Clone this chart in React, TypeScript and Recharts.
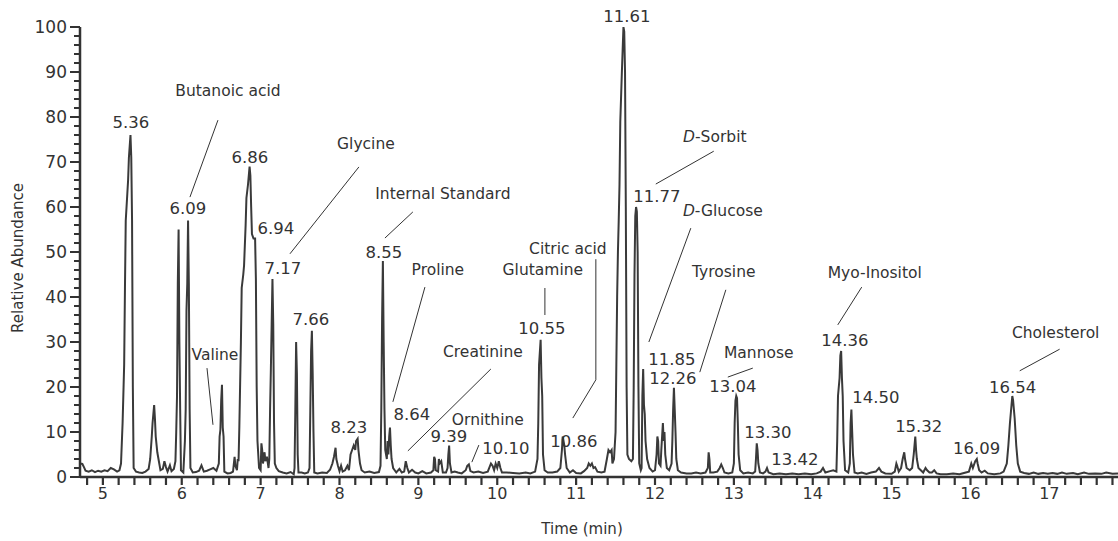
import { ComposedChart, Line, XAxis, YAxis, ReferenceLine, ReferenceDot } from "recharts";

const INK = "#333";
const FONT = "'DejaVu Sans', sans-serif";

// chromatogram trace: [retention time (min), relative abundance (%)]
const traceEarly: [number, number][] = [
  [4.71, 3.0], [4.74, 2.9], [4.76, 2.2], [4.78, 1.4], [4.82, 1.2], [4.86, 1.5], [4.9, 1.1], [4.94, 1.4],
  [4.98, 1.2], [5.02, 1.5], [5.06, 1.3], [5.1, 2.0], [5.14, 1.7], [5.18, 1.2], [5.21, 1.5], [5.23, 3],
  [5.25, 12], [5.27, 25], [5.28, 42], [5.29, 57], [5.31, 63], [5.32, 66], [5.33, 71], [5.35, 76],
  [5.36, 71], [5.37, 57], [5.38, 20], [5.39, 2], [5.42, 1.2], [5.46, 1.0], [5.5, 0.9], [5.54, 1.2],
  [5.58, 1.8], [5.6, 4], [5.62, 9], [5.63, 12], [5.65, 16], [5.66, 13], [5.67, 9], [5.69, 5.5],
  [5.71, 3.5], [5.73, 1.5], [5.76, 1.8], [5.78, 3.5], [5.8, 2.2], [5.82, 1.2], [5.85, 2.6], [5.87, 1.3],
  [5.9, 1.8], [5.92, 3.5], [5.93, 10], [5.94, 18], [5.95, 43], [5.96, 55], [5.97, 30], [5.98, 15],
  [5.99, 1.5], [6.02, 1], [6.04, 8], [6.05, 15], [6.06, 37], [6.07, 43], [6.08, 57], [6.09, 43],
  [6.1, 15], [6.11, 2], [6.14, 1],
];

const traceMid1: [number, number][] = [
  [6.18, 1.1], [6.22, 1.4], [6.25, 2.6], [6.28, 1.2], [6.32, 1.4], [6.36, 1.7], [6.4, 2.0], [6.44, 1.4],
  [6.47, 3], [6.48, 9], [6.49, 10.5], [6.5, 17], [6.51, 20.5], [6.52, 11], [6.53, 9], [6.54, 1.2],
  [6.58, 0.8], [6.62, 0.9], [6.65, 1.2], [6.67, 4.5], [6.68, 2.5], [6.7, 1.5], [6.71, 4], [6.72, 3.5],
  [6.73, 11], [6.75, 30], [6.76, 42], [6.78, 45], [6.79, 47], [6.81, 56], [6.82, 62], [6.84, 65],
  [6.86, 69], [6.87, 67], [6.88, 60], [6.89, 54], [6.91, 53], [6.93, 53], [6.94, 44], [6.95, 20],
  [6.96, 8], [6.98, 2], [7.0, 1.5], [7.01, 7.5], [7.02, 6], [7.03, 3], [7.05, 5.5], [7.06, 3.5],
  [7.08, 4.5], [7.1, 2], [7.11, 4], [7.12, 15], [7.13, 24], [7.14, 34], [7.15, 44], [7.16, 34],
  [7.17, 12], [7.18, 3], [7.2, 2], [7.23, 1.3], [7.28, 1], [7.33, 0.8], [7.38, 1.1], [7.42, 0.6],
  [7.43, 2], [7.44, 15], [7.45, 30], [7.46, 23], [7.47, 5], [7.48, 1], [7.52, 1], [7.56, 0.8],
  [7.6, 1], [7.62, 2], [7.63, 15], [7.64, 28], [7.65, 32.5], [7.66, 23], [7.67, 10], [7.68, 1],
];

const traceMid2: [number, number][] = [
  [7.72, 0.8], [7.78, 1], [7.84, 0.9], [7.88, 1.6], [7.91, 3], [7.93, 4.5], [7.95, 6.5], [7.96, 4],
  [7.98, 2.5], [8.0, 1.3], [8.02, 2.5], [8.04, 1.2], [8.07, 1.5], [8.1, 2.5], [8.12, 1.5], [8.14, 5],
  [8.16, 6], [8.18, 7], [8.2, 6], [8.21, 8], [8.23, 8.5], [8.24, 6], [8.26, 3], [8.28, 1.5],
  [8.32, 1], [8.38, 1.2], [8.44, 0.9], [8.5, 1.1], [8.52, 2.5], [8.53, 15], [8.54, 35], [8.55, 48],
  [8.56, 30], [8.57, 15], [8.58, 6], [8.6, 4], [8.61, 8], [8.62, 5], [8.63, 9], [8.64, 11],
  [8.65, 7], [8.66, 4], [8.68, 2], [8.72, 1], [8.76, 1.8], [8.79, 1], [8.82, 1.2], [8.84, 3.5],
  [8.86, 2], [8.88, 1], [8.92, 1.6], [8.96, 1], [9.0, 0.8], [9.05, 1.3], [9.1, 0.8], [9.16, 1],
  [9.19, 1.5], [9.2, 4.5], [9.21, 4], [9.22, 1.5], [9.25, 1.2], [9.26, 4], [9.27, 3], [9.29, 3.5],
  [9.31, 1], [9.35, 1], [9.37, 2], [9.38, 5], [9.39, 7], [9.4, 3], [9.42, 1], [9.46, 1.2],
  [9.5, 1], [9.55, 0.8], [9.6, 1.5], [9.62, 2.5], [9.64, 2.8], [9.66, 1.3], [9.7, 1], [9.76, 1.2],
  [9.82, 0.9], [9.88, 1.2], [9.92, 3], [9.94, 2.5], [9.96, 1.5], [9.98, 3], [10.0, 2], [10.02, 3.5],
  [10.04, 2], [10.06, 1], [10.12, 1], [10.2, 0.9], [10.28, 0.8], [10.36, 1], [10.42, 0.8], [10.48, 1.2],
];

const traceLate1: [number, number][] = [
  [10.51, 4], [10.52, 12], [10.53, 25], [10.55, 30.5], [10.56, 22], [10.57, 18], [10.58, 5], [10.6, 1.5],
  [10.64, 1], [10.7, 1], [10.76, 1.2], [10.8, 2], [10.82, 6], [10.83, 9], [10.85, 7], [10.86, 5],
  [10.88, 2], [10.92, 1], [10.96, 1.5], [11.0, 0.9], [11.06, 0.8], [11.1, 1.3], [11.14, 2], [11.16, 3],
  [11.18, 2.5], [11.2, 3], [11.22, 2], [11.24, 2.2], [11.27, 1.2], [11.32, 1], [11.36, 1.2], [11.39, 4],
  [11.41, 6], [11.43, 5.5], [11.45, 6], [11.46, 3], [11.48, 4], [11.5, 10], [11.51, 25], [11.52, 40],
  [11.53, 50], [11.54, 57], [11.55, 65], [11.56, 79], [11.58, 90], [11.6, 100], [11.61, 99], [11.62, 90],
  [11.63, 60], [11.64, 20], [11.65, 5], [11.67, 4], [11.7, 3.5], [11.72, 4], [11.73, 20], [11.74, 45],
  [11.75, 58], [11.76, 60], [11.77, 59], [11.78, 50], [11.79, 20], [11.8, 3], [11.82, 1.5], [11.83, 2],
  [11.84, 18], [11.85, 24], [11.86, 16], [11.87, 14], [11.88, 8], [11.9, 4], [11.93, 2], [11.97, 1.2],
  [12.0, 1.5], [12.02, 5], [12.03, 9], [12.04, 8], [12.05, 3], [12.07, 2.5], [12.08, 6], [12.09, 9],
  [12.1, 12], [12.11, 8], [12.12, 10], [12.13, 5], [12.15, 2], [12.18, 1.5], [12.21, 3], [12.22, 8],
  [12.23, 15], [12.24, 19.8], [12.25, 15], [12.26, 10], [12.27, 4], [12.29, 1.5], [12.33, 1], [12.4, 0.8],
  [12.46, 0.8],
];

const traceLate2: [number, number][] = [
  [12.52, 1], [12.58, 0.8], [12.64, 1], [12.67, 2], [12.68, 5.5], [12.69, 4], [12.7, 1], [12.74, 1],
  [12.79, 1.2], [12.82, 2], [12.84, 2.8], [12.86, 2], [12.88, 1], [12.93, 0.8], [12.98, 1], [13.0, 3],
  [13.01, 12], [13.02, 17], [13.03, 18], [13.04, 17.5], [13.05, 12], [13.06, 5], [13.08, 1.5], [13.12, 0.8],
  [13.18, 1], [13.24, 0.8], [13.27, 1.2], [13.28, 4], [13.29, 7.5], [13.3, 6], [13.31, 3], [13.33, 1],
  [13.37, 0.8], [13.4, 1.2], [13.42, 2], [13.44, 1], [13.5, 0.6], [13.58, 0.8], [13.66, 0.6], [13.74, 0.8],
  [13.82, 0.6], [13.9, 0.8], [13.98, 0.6], [14.05, 0.8], [14.1, 1.2], [14.13, 2], [14.16, 1], [14.22, 1.3],
  [14.26, 1.5], [14.3, 1.2], [14.31, 8], [14.32, 18], [14.34, 22], [14.35, 27], [14.36, 28], [14.37, 22],
  [14.38, 18], [14.39, 8], [14.41, 1.5], [14.45, 1], [14.47, 3], [14.48, 12], [14.49, 15], [14.5, 10],
  [14.51, 5], [14.53, 1], [14.57, 0.8], [14.62, 1], [14.68, 0.7], [14.74, 1], [14.8, 1.2], [14.84, 2],
  [14.87, 1.2], [14.92, 0.8], [15.0, 0.7], [15.04, 1.2], [15.06, 3], [15.07, 2.5], [15.09, 1.2], [15.12, 2],
  [15.14, 4], [15.16, 5.5], [15.17, 4], [15.19, 2], [15.23, 1.5], [15.26, 2], [15.28, 5], [15.3, 9],
  [15.31, 6], [15.32, 4], [15.34, 2], [15.37, 1.5], [15.4, 1], [15.43, 2], [15.45, 1.5], [15.48, 1],
  [15.51, 1], [15.54, 1.5], [15.57, 0.8], [15.62, 0.6], [15.7, 0.6], [15.78, 0.8], [15.86, 0.6], [15.94, 1],
  [15.98, 1.2], [16.01, 3], [16.03, 2], [16.06, 3.5], [16.08, 4], [16.09, 3], [16.11, 1.5], [16.14, 1],
  [16.18, 1.4], [16.22, 0.8], [16.3, 0.6], [16.38, 0.8], [16.42, 1.2], [16.46, 3], [16.48, 7], [16.5, 12],
  [16.52, 16], [16.53, 18], [16.54, 17], [16.56, 13], [16.58, 7], [16.6, 3], [16.63, 1.2], [16.68, 0.9],
  [16.74, 0.7], [16.8, 1], [16.86, 0.7], [16.92, 0.9], [16.98, 0.7], [17.04, 0.9], [17.1, 0.7], [17.16, 1],
  [17.22, 0.7], [17.3, 0.9], [17.36, 0.6], [17.44, 1], [17.5, 0.7], [17.58, 0.8], [17.66, 0.7], [17.72, 1],
  [17.8, 0.7], [17.87, 0.8],
];

const xLabels = [5, 6, 7, 8, 9, 10, 11, 12, 13, 14, 15, 16, 17];
const yLabels = [0, 10, 20, 30, 40, 50, 60, 70, 80, 90, 100];

// retention-time labels, placed where they sit on the plot (time, abundance)
const peakLabels = [
  { text: "5.36", t: 5.356, v: 78.7 },
  { text: "6.09", t: 6.079, v: 59.6 },
  { text: "6.86", t: 6.865, v: 70.9 },
  { text: "6.94", t: 7.194, v: 55.3 },
  { text: "7.17", t: 7.283, v: 46.4 },
  { text: "7.66", t: 7.638, v: 34.9 },
  { text: "8.23", t: 8.119, v: 10.9 },
  { text: "8.55", t: 8.563, v: 50.0 },
  { text: "8.64", t: 8.918, v: 13.8 },
  { text: "9.39", t: 9.387, v: 8.9 },
  { text: "10.10", t: 10.109, v: 6.4 },
  { text: "10.55", t: 10.566, v: 32.9 },
  { text: "10.86", t: 10.971, v: 8.0 },
  { text: "11.61", t: 11.643, v: 102.4 },
  { text: "11.77", t: 12.023, v: 62.4 },
  { text: "11.85", t: 12.213, v: 26.2 },
  { text: "12.26", t: 12.228, v: 22.0 },
  { text: "13.04", t: 12.986, v: 20.2 },
  { text: "13.30", t: 13.43, v: 10.0 },
  { text: "13.42", t: 13.772, v: 3.8 },
  { text: "14.36", t: 14.406, v: 30.4 },
  { text: "14.50", t: 14.799, v: 17.6 },
  { text: "15.32", t: 15.344, v: 11.3 },
  { text: "16.09", t: 16.079, v: 6.4 },
  { text: "16.54", t: 16.535, v: 19.8 },
];

const compoundLabels = [
  { text: "Butanoic acid", t: 6.586, v: 85.8 },
  { text: "Glycine", t: 8.335, v: 74.0 },
  { text: "Valine", t: 6.421, v: 27.1 },
  { text: "Internal Standard", t: 9.311, v: 62.9 },
  { text: "Proline", t: 9.247, v: 46.0 },
  { text: "Creatinine", t: 9.818, v: 27.8 },
  { text: "Ornithine", t: 9.881, v: 12.7 },
  { text: "Glutamine", t: 10.578, v: 46.0 },
  { text: "Citric acid", t: 10.895, v: 50.7 },
  { text: "D-Sorbit", t: 12.758, v: 75.6 },
  { text: "D-Glucose", t: 12.86, v: 59.1 },
  { text: "Tyrosine", t: 12.872, v: 45.6 },
  { text: "Mannose", t: 13.316, v: 27.6 },
  { text: "Myo-Inositol", t: 14.786, v: 45.3 },
  { text: "Cholesterol", t: 17.08, v: 32.0 },
];

// leader lines: [t1, v1, t2, v2]
const leaders: [number, number, number, number][] = [
  [6.459, 79.3, 6.104, 62.2],
  [8.246, 68.9, 7.372, 49.6],
  [6.32, 24.2, 6.396, 11.6],
  [8.93, 58.9, 8.576, 53.1],
  [9.083, 42.2, 8.677, 16.7],
  [9.919, 24.0, 8.867, 5.8],
  [9.767, 7.1, 9.678, 3.3],
  [10.604, 42.0, 10.604, 36.0],
  [11.25, 48.4, 11.25, 21.6],
  [11.25, 21.6, 10.958, 13.1],
  [12.745, 72.4, 12.01, 65.1],
  [12.454, 55.3, 11.922, 30.0],
  [12.898, 41.6, 12.568, 23.3],
  [13.24, 24.2, 12.923, 22.2],
  [14.621, 42.2, 14.317, 33.8],
  [17.13, 28.4, 16.624, 23.6],
];

const data = [...traceEarly, ...traceMid1, ...traceMid2, ...traceLate1, ...traceLate2].map(([t, v]) => ({ t, v }));
const xTicks = Array.from({ length: 66 }, (_, i) => +(4.8 + i * 0.2).toFixed(1));
const yTicks = Array.from({ length: 51 }, (_, i) => i * 2);

const AXIS_X = 80; // left edge of the plot
const AXIS_Y = 477; // bottom edge of the plot

function textLabel(text: string, size: number) {
  return (props: any) => {
    const vb = props.viewBox || {};
    const x = (vb.x ?? 0) + (vb.width ?? 0) / 2;
    const y = (vb.y ?? 0) + (vb.height ?? 0) / 2;
    const italicD = text.startsWith("D-");
    return (
      <text x={x} y={y} textAnchor="middle" dominantBaseline="central" fill={INK} fontSize={size} fontFamily={FONT}>
        {italicD ? (
          <>
            <tspan fontStyle="italic">D</tspan>
            {text.slice(1)}
          </>
        ) : (
          text
        )}
      </text>
    );
  };
}

// y ticks drawn by hand so the minor ones come out shorter than the labelled ones
function YTick(props: any) {
  const { y, payload } = props;
  const major = yLabels.includes(payload.value);
  return (
    <g>
      <line x1={AXIS_X - (major ? 10 : 6)} x2={AXIS_X} y1={y} y2={y} stroke={INK} strokeWidth={2} />
      {major && (
        <text x={67} y={y} dy="0.36em" textAnchor="end" fill={INK} fontSize={17} fontFamily={FONT}>
          {payload.value}
        </text>
      )}
    </g>
  );
}

function XTick(props: any) {
  const { x, payload } = props;
  const labelled = xLabels.includes(payload.value);
  return (
    <g>
      <line x1={x} x2={x} y1={AXIS_Y} y2={AXIS_Y + 8} stroke={INK} strokeWidth={2.2} />
      {labelled && (
        <text x={x} y={493} dy="0.36em" textAnchor="middle" fill={INK} fontSize={16} fontFamily={FONT}>
          {payload.value}
        </text>
      )}
    </g>
  );
}

export default function App() {
  return (
    <div style={{ width: 1118, height: 541, background: "#fff" }}>
      <style>{"body{margin:0}"}</style>
      <ComposedChart width={1118} height={541} data={data} margin={{ top: 27, right: 0, bottom: 24, left: 20 }}>
        <XAxis
          type="number"
          dataKey="t"
          domain={[4.71, 17.87]}
          allowDataOverflow
          ticks={xTicks}
          interval={0}
          axisLine={{ stroke: INK, strokeWidth: 2.5 }}
          tickLine={false}
          height={40}
          tick={<XTick />}
          label={() => (
            <text x={582} y={529} textAnchor="middle" dominantBaseline="central" fill={INK} fontSize={15} fontFamily={FONT}>
              Time (min)
            </text>
          )}
        />
        <YAxis
          type="number"
          domain={[0, 100]}
          allowDataOverflow
          ticks={yTicks}
          interval={0}
          width={60}
          tickLine={false}
          axisLine={{ stroke: INK, strokeWidth: 2.5 }}
          tick={<YTick />}
          label={() => (
            <text
              x={18}
              y={258}
              transform="rotate(-90 18 258)"
              textAnchor="middle"
              dominantBaseline="central"
              fill={INK}
              fontSize={15}
              fontFamily={FONT}
            >
              Relative Abundance
            </text>
          )}
        />
        <Line
          type="linear"
          dataKey="v"
          stroke="#3a3a3a"
          strokeWidth={2}
          dot={false}
          activeDot={false}
          isAnimationActive={false}
        />
        {leaders.map(([t1, v1, t2, v2], i) => (
          <ReferenceLine
            key={`l${i}`}
            segment={[{ x: t1, y: v1 }, { x: t2, y: v2 }]}
            stroke={INK}
            strokeWidth={1}
            ifOverflow="visible"
          />
        ))}
        {peakLabels.map((p) => (
          <ReferenceDot
            key={`p${p.text}`}
            x={p.t}
            y={p.v}
            r={0}
            fill="none"
            stroke="none"
            ifOverflow="visible"
            label={textLabel(p.text, 16.5)}
          />
        ))}
        {compoundLabels.map((c) => (
          <ReferenceDot
            key={`c${c.text}`}
            x={c.t}
            y={c.v}
            r={0}
            fill="none"
            stroke="none"
            ifOverflow="visible"
            label={textLabel(c.text, 15.5)}
          />
        ))}
      </ComposedChart>
    </div>
  );
}
